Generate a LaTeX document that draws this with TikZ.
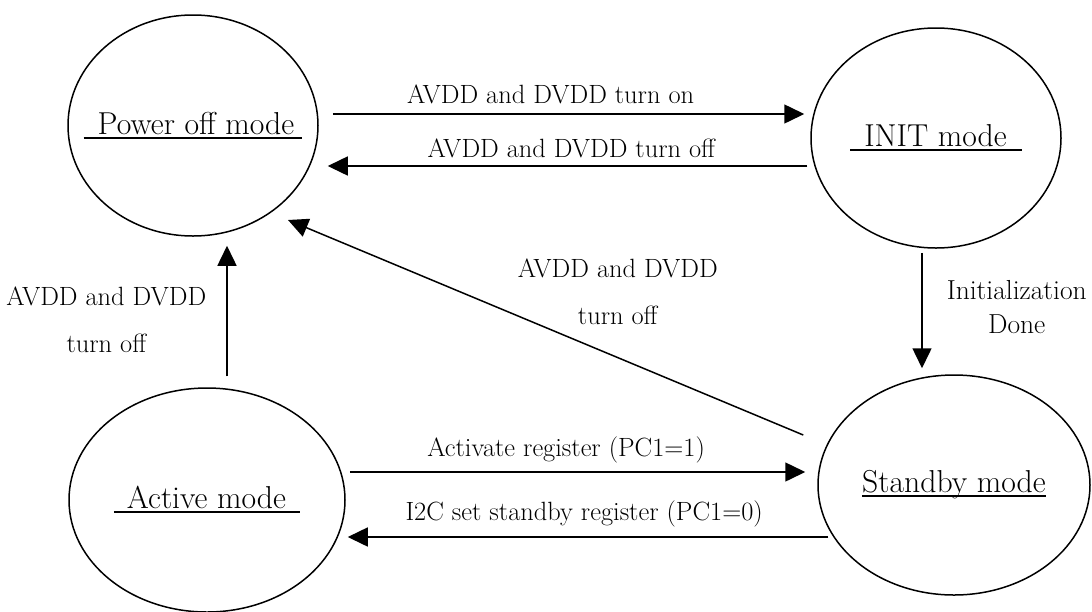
\documentclass[tikz,border=0pt]{standalone}
\usepackage{fontspec}
\usetikzlibrary{arrows.meta,shapes.geometric}
\newcommand{\ulmode}[1]{\setbox0\hbox{#1}\rlap{\rule[-4.5pt]{\wd0}{2pt}}\box0}
\begin{document}
\begin{tikzpicture}[x=1pt,y=-1pt,line width=1.5pt,
  mode/.style={draw,ellipse,inner sep=0pt},
  modetxt/.style={inner sep=0pt,font=\fontsize{31.7}{36}\selectfont},
  arr/.style={-{Triangle[length=20pt,width=19pt]}},
  lbl/.style={inner sep=0pt,anchor=base,font=\fontsize{26.4}{30}\selectfont},
  lbltwo/.style={inner sep=0pt,align=center,font=\fontsize{26.4}{47}\selectfont}]
\useasboundingbox (0,0) rectangle (1092,611);
% states
\node[mode,minimum width=250pt,minimum height=221pt,
  label={[modetxt]center:\ulmode{\hspace{14pt}Power off mode\hspace{8pt}}}] (poff) at (193,125.5) {};
\node[mode,minimum width=250pt,minimum height=220pt,
  label={[modetxt]center:\ulmode{\hspace{14pt}INIT mode\hspace{15pt}}}] (init) at (936,138) {};
\node[mode,minimum width=276pt,minimum height=224pt,
  label={[modetxt]center:\ulmode{\hspace{13pt}Active mode\hspace{14pt}}}] (act) at (207,500) {};
\node[mode,minimum width=272pt,minimum height=220pt,
  label={[modetxt]center:\ulmode{Standby mode}}] (sby) at (954,485) {};
% transitions
\draw[arr] ([xshift=14pt,yshift=11.5pt]poff.east) -- ([xshift=-6pt,yshift=24pt]init.west)
  node[lbl,pos=.462,yshift=11pt] {AVDD and DVDD turn on};
\draw[arr] ([xshift=-3pt,yshift=-28pt]init.west) -- ([xshift=9pt,yshift=-40.5pt]poff.east)
  node[lbl,pos=.492,yshift=9pt] {AVDD and DVDD turn off};
\draw[arr] ([xshift=-14pt,yshift=-4pt]init.south) -- ([xshift=-32pt,yshift=6pt]sby.north)
  node[lbltwo,font=\fontsize{27.5}{34}\selectfont,pos=.47,right=24pt] {Initialization\\Done};
\draw[arr] ([xshift=-14pt,yshift=50pt]sby.west) -- ([xshift=95pt,yshift=-94.5pt]poff.center)
  node[lbltwo,pos=.36,yshift=66pt] {AVDD and DVDD\\turn off};
\draw[arr] ([xshift=20pt,yshift=11pt]act.north) -- ([xshift=34pt,yshift=-9pt]poff.south)
  node[lbltwo,pos=.43,left=20pt] {AVDD and DVDD\\turn off};
\draw[arr] ([xshift=4pt,yshift=28pt]act.east) -- ([xshift=-12pt,yshift=13pt]sby.west)
  node[lbl,pos=.475,yshift=16pt] {Activate register (PC1=1)};
\draw[arr] ([xshift=11pt,yshift=-52pt]sby.west) -- ([xshift=2pt,yshift=-37pt]act.east)
  node[lbl,pos=.508,yshift=17pt] {I2C set standby register (PC1=0)};
\end{tikzpicture}
\end{document}
